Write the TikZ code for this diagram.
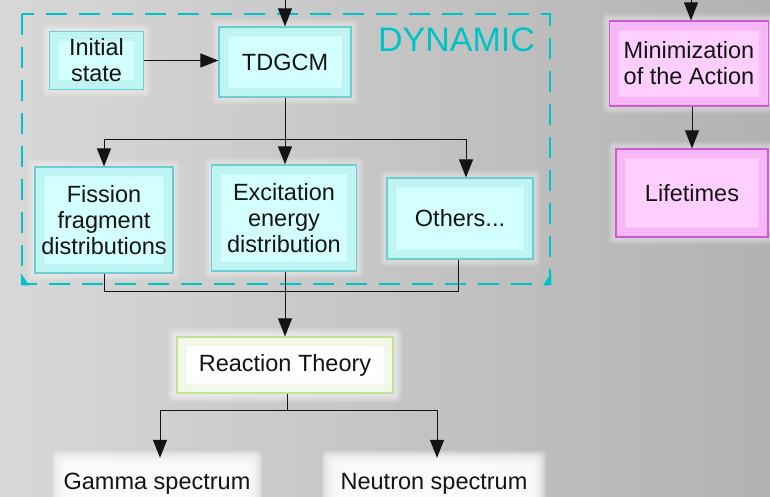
\documentclass[tikz,border=0pt]{standalone}
\usepackage{fontspec}
\setmainfont{Liberation Sans}
\usetikzlibrary{arrows.meta,backgrounds,calc}
\definecolor{bgl}{RGB}{216,216,216}
\definecolor{bgr}{RGB}{178,178,178}
\definecolor{dyn}{RGB}{0,196,196}
\definecolor{cyfill}{RGB}{212,255,255}
\definecolor{cyedge}{RGB}{110,206,206}
\definecolor{mgfill}{RGB}{255,208,255}
\definecolor{mgedge}{RGB}{206,90,210}
\definecolor{grnedge}{RGB}{196,224,150}
\definecolor{ink}{RGB}{20,20,20}
\newcommand\myglow[4]{% node, color, opacity, layers
  \foreach \i in {1,...,#4} {
    \fill[#2, opacity=#3, rounded corners=\i pt]
      ($(#1.south west)+(-\i*1.4,\i*1.4)$) rectangle ($(#1.north east)+(\i*1.4,-\i*1.4)$);
  }}
\newcommand\softwhite[1]{% fuzzy white panel round node
  \foreach \i in {-8,...,10} {
    \fill[white, opacity=0.17, rounded corners=6pt]
      ($(#1.south west)+(-\i,\i)$) rectangle ($(#1.north east)+(\i,-\i)$);
  }}
\begin{document}
\begin{tikzpicture}[x=1pt,y=-1pt,
  font=\fontsize{23.5}{26}\selectfont,
  box/.style={align=center, inner sep=0pt, text=ink},
  bevel/.style 2 args={box, fill=#1, draw=#2, line width=1.2pt,
    path picture={
      \foreach \i in {1,...,12}{
        \draw[#2, opacity=0.085, line width=1.6pt]
          ($(path picture bounding box.south west)+(\i*0.75,-\i*0.75)$) rectangle
          ($(path picture bounding box.north east)+(-\i*0.75,\i*0.75)$);
      }}},
  cybox/.style={bevel={cyfill}{cyedge}},
  mgbox/.style={bevel={mgfill}{mgedge}},
  grbox/.style={bevel={white}{grnedge}},
  whbox/.style={box},
  arr/.style={-{Triangle[length=18pt,width=14pt]}, line width=1pt, draw=ink},
  plain/.style={line width=1pt, draw=ink}
]
\useasboundingbox (0,0) rectangle (770,497);
\begin{scope}[on background layer]
  \fill[left color=bgl, right color=bgr] (0,0) rectangle (770,497);
\end{scope}

% dashed frame
\draw[dyn, line width=2.5pt, dash pattern=on 21pt off 12pt] (22,14) rectangle (550,284);
\fill[dyn] (20.75,273) -- (20.75,285.25) -- (29,285.25) -- cycle;
\fill[dyn] (551.25,273) -- (551.25,285.25) -- (543,285.25) -- cycle;
\node[text=dyn, font=\fontsize{34}{36}\selectfont, inner sep=0pt] (dynlabel) at (456.5,40) {DYNAMIC};

% nodes
\node[cybox, minimum width=94pt, minimum height=58pt] (init) at (96.5,60.5) {Initial\\state};
\node[cybox, minimum width=132pt, minimum height=70pt] (tdgcm) at (285,62) {TDGCM};
\node[cybox, minimum width=138pt, minimum height=106pt] (fission) at (104,220) {Fission\\fragment\\distributions};
\node[cybox, minimum width=145pt, minimum height=106pt] (excit) at (284,218) {Excitation\\energy\\distribution};
\node[cybox, minimum width=146pt, minimum height=81pt] (others) at (460,218.5) {Others...};
\node[grbox, minimum width=216pt, minimum height=56pt] (react) at (285,365) {Reaction Theory};
\node[whbox, minimum width=190pt, minimum height=46pt] (gamma) at (157,484) {Gamma spectrum};
\node[whbox, minimum width=204pt, minimum height=46pt] (neutron) at (434,484) {Neutron spectrum};
\node[mgbox, minimum width=159pt, minimum height=85pt] (minim) at (689,63.5) {Minimization\\of the Action};
\node[mgbox, minimum width=152pt, minimum height=88pt] (life) at (692,193) {Lifetimes};

\begin{scope}[on background layer]
  \myglow{init}{white}{0.10}{5}
  \myglow{tdgcm}{white}{0.10}{5}
  \myglow{fission}{white}{0.10}{5}
  \myglow{excit}{white}{0.10}{5}
  \myglow{others}{white}{0.10}{5}
  \myglow{react}{white}{0.14}{6}
  \myglow{minim}{white}{0.10}{5}
  \myglow{life}{white}{0.10}{5}
  \softwhite{gamma}
  \softwhite{neutron}
\end{scope}

% coordinates
\coordinate (topA) at (285,-2);
\coordinate (topB) at (691,-2);
\coordinate (split1) at (285,140);
\coordinate (join1) at (285,291);
\coordinate (split2) at (287,410);

% connectors
\draw[arr] (topA) -- (tdgcm.north);
\draw[arr] (topB) -- (minim.north -| topB);
\draw[arr] (init.east) -- (init.east -| tdgcm.west);
\draw[plain] (tdgcm.south) -- (split1);
\draw[arr] (split1) -| (fission.north);
\draw[arr] (split1) -- (excit.north -| split1);
\draw[arr] (split1) -| ([xshift=6pt]others.north);
\draw[plain] (fission.south) |- (join1);
\draw[plain] ([xshift=-2pt]others.south) |- (join1);
\draw[arr] (excit.south -| join1) -- (react.north -| join1);
\draw[plain] (react.south -| split2) -- (split2);
\draw[arr] (split2) -| ([xshift=3pt,yshift=3pt]gamma.north);
\draw[arr] (split2) -| ([xshift=3pt,yshift=3pt]neutron.north);
\draw[arr] (minim.south -| life.north) -- (life.north);
\end{tikzpicture}
\end{document}
